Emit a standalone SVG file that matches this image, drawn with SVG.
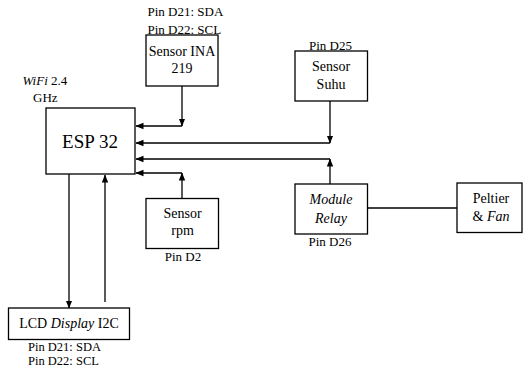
<svg xmlns="http://www.w3.org/2000/svg" width="523" height="371" viewBox="0 0 523 371">
<style>
.box{fill:#fff;stroke:#000;stroke-width:1.3}
text{font-family:"Liberation Serif","DejaVu Serif",serif;fill:#000}
.t{font-size:14px;text-anchor:middle}
.p{font-size:13px}
.c{text-anchor:middle}
.i{font-style:italic}
.ln{fill:none;stroke:#000;stroke-width:1.3}
</style>
<defs>
<marker id="ah" markerUnits="userSpaceOnUse" markerWidth="8" markerHeight="8" viewBox="0 0 8 8" refX="7.5" refY="4" orient="auto">
<path d="M0,0.8 L8,4 L0,7.2 Z" fill="#000"/>
</marker>
</defs>
<rect width="523" height="371" fill="#fff"/>
<g id="connectors">
<path class="ln" d="M182,86 V126" marker-end="url(#ah)"/>
<path class="ln" d="M182,126 H136" marker-end="url(#ah)"/>
<path class="ln" d="M330,101 V143" marker-end="url(#ah)"/>
<path class="ln" d="M330,143 H136" marker-end="url(#ah)"/>
<path class="ln" d="M330,184 V159" marker-end="url(#ah)"/>
<path class="ln" d="M330,159 H136" marker-end="url(#ah)"/>
<path class="ln" d="M182,198 V173" marker-end="url(#ah)"/>
<path class="ln" d="M182,173 H136" marker-end="url(#ah)"/>
<path class="ln" d="M69,174 V308" marker-end="url(#ah)"/>
<path class="ln" d="M105,302 V175" marker-end="url(#ah)"/>
<path class="ln" d="M367,208 H457"/>
</g>
<g id="esp32">
<rect class="box" x="46" y="108" width="89" height="66"/>
<text class="t" x="90" y="148" style="font-size:19px">ESP 32</text>
<text class="p i" x="22.5" y="84.5">WiFi<tspan font-style="normal"> 2.4</tspan></text>
<text class="p" x="33" y="102">GHz</text>
</g>
<g id="sensor-ina">
<rect class="box" x="146" y="35" width="72" height="51"/>
<text class="t" x="182" y="55.5">Sensor INA</text>
<text class="t" x="182" y="73">219</text>
<text class="p" x="147.5" y="15.5">Pin D21: SDA</text>
<text class="p" x="147.5" y="33.5">Pin D22: SCL</text>
</g>
<g id="sensor-suhu">
<rect class="box" x="295" y="51" width="72.5" height="50"/>
<text class="t" x="331" y="70.5">Sensor</text>
<text class="t" x="331" y="88.5">Suhu</text>
<text class="p c" x="330.5" y="49.5">Pin D25</text>
</g>
<g id="module-relay">
<rect class="box" x="295" y="184" width="72.5" height="50"/>
<text class="t i" x="331" y="204">Module</text>
<text class="t i" x="331" y="223">Relay</text>
<text class="p c" x="330" y="246">Pin D26</text>
</g>
<g id="sensor-rpm">
<rect class="box" x="146" y="198.5" width="72.5" height="50"/>
<text class="t" x="182.5" y="218">Sensor</text>
<text class="t" x="182.5" y="235">rpm</text>
<text class="p c" x="183" y="261">Pin D2</text>
</g>
<g id="peltier-fan">
<rect class="box" x="457" y="183" width="65" height="49.5"/>
<text class="t" x="491" y="203">Peltier</text>
<text class="t" x="491" y="221">&amp; <tspan font-style="italic">Fan</tspan></text>
</g>
<g id="lcd-display">
<rect class="box" x="8.5" y="308" width="121" height="31.5"/>
<text class="t" x="69" y="328">LCD <tspan font-style="italic">Display</tspan> I2C</text>
<text class="p" x="28" y="350.5" style="font-size:12.5px">Pin D21: SDA</text>
<text class="p" x="28" y="364.5" style="font-size:12.5px">Pin D22: SCL</text>
</g>
</svg>
